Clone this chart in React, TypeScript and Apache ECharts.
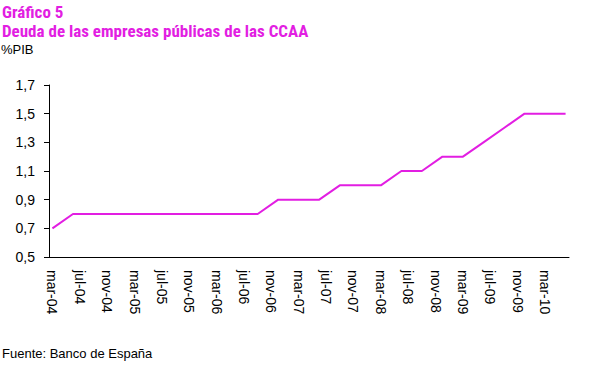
import React, { useEffect, useRef } from "react";
import * as echarts from "echarts";

const monthNames = ["ene", "feb", "mar", "abr", "may", "jun", "jul", "ago", "sep", "oct", "nov", "dic"];

// Monthly categories from mar-04 to jun-10
const categories: string[] = [];
for (let y = 2004; y <= 2010; y++) {
  for (let m = 0; m < 12; m++) {
    if (y === 2004 && m < 2) continue;
    if (y === 2010 && m > 5) continue;
    categories.push(`${monthNames[m]}-${String(y).slice(2)}`);
  }
}

// Quarterly observations (% PIB)
const quarterLabels = [
  "mar-04", "jun-04", "sep-04", "dic-04",
  "mar-05", "jun-05", "sep-05", "dic-05",
  "mar-06", "jun-06", "sep-06", "dic-06",
  "mar-07", "jun-07", "sep-07", "dic-07",
  "mar-08", "jun-08", "sep-08", "dic-08",
  "mar-09", "jun-09", "sep-09", "dic-09",
  "mar-10", "jun-10",
];
const quarterValues = [
  0.7, 0.8, 0.8, 0.8,
  0.8, 0.8, 0.8, 0.8,
  0.8, 0.8, 0.8, 0.9,
  0.9, 0.9, 1.0, 1.0,
  1.0, 1.1, 1.1, 1.2,
  1.2, 1.3, 1.4, 1.5,
  1.5, 1.5,
];

const yTicks = [0.5, 0.7, 0.9, 1.1, 1.3, 1.5, 1.7];

const MAGENTA = "#E21EE2";
const TITLE_FONT = "'Roboto Condensed', sans-serif";
const SANS = "'Liberation Sans', Arial, sans-serif";

export default function App() {
  const ref = useRef<HTMLDivElement>(null);
  useEffect(() => {
    if (!ref.current) return;
    const chart = echarts.init(ref.current, undefined, { renderer: "svg" });
    const seriesData = categories.map((c) => {
      const i = quarterLabels.indexOf(c);
      return i >= 0 ? quarterValues[i] : null;
    });
    chart.setOption({
      animation: false,
      backgroundColor: "#ffffff",
      title: [
        {
          text: "Gráfico 5",
          left: 2,
          top: 3,
          padding: 0,
          textStyle: { color: MAGENTA, fontFamily: TITLE_FONT, fontWeight: "bold", fontSize: 17 },
        },
        {
          text: "Deuda de las empresas públicas de las CCAA",
          left: 2,
          top: 22,
          padding: 0,
          textStyle: { color: MAGENTA, fontFamily: TITLE_FONT, fontWeight: "bold", fontSize: 17 },
        },
        {
          text: "%PIB",
          left: 1,
          top: 43,
          padding: 0,
          textStyle: { color: "#000", fontFamily: SANS, fontWeight: "normal", fontSize: 13 },
        },
        {
          text: "Fuente: Banco de España",
          left: 2,
          top: 347,
          padding: 0,
          textStyle: { color: "#000", fontFamily: SANS, fontWeight: "normal", fontSize: 13 },
        },
      ],
      grid: { left: 49, right: 20, top: 85, bottom: 110, containLabel: false },
      xAxis: {
        type: "category",
        data: categories,
        boundaryGap: true,
        axisLine: { lineStyle: { color: "#000", width: 1 } },
        axisTick: { interval: 3, length: 4, lineStyle: { color: "#000" } },
        axisLabel: {
          interval: 3,
          rotate: -90,
          color: "#000",
          fontFamily: SANS,
          fontSize: 14,
          margin: 13,
        },
        splitLine: { show: false },
      },
      yAxis: {
        type: "value",
        min: 0.5,
        max: 1.7,
        interval: 0.2,
        axisLine: { show: true, lineStyle: { color: "#000", width: 1 } },
        axisTick: { show: true, length: 5, lineStyle: { color: "#000" } },
        axisLabel: {
          color: "#000",
          fontFamily: SANS,
          fontSize: 14,
          margin: 14,
          formatter: (v: number) => {
            const t = yTicks.find((x) => Math.abs(x - v) < 1e-6);
            return t !== undefined ? t.toFixed(1).replace(".", ",") : "";
          },
        },
        splitLine: { show: false },
      },
      series: [
        {
          type: "line",
          data: seriesData,
          connectNulls: true,
          showSymbol: false,
          symbol: "none",
          lineStyle: { color: MAGENTA, width: 2 },
        },
      ],
    });
    return () => chart.dispose();
  }, []);
  return <div ref={ref} style={{ width: 589, height: 367, position: "absolute", left: 0, top: 0 }} />;
}
